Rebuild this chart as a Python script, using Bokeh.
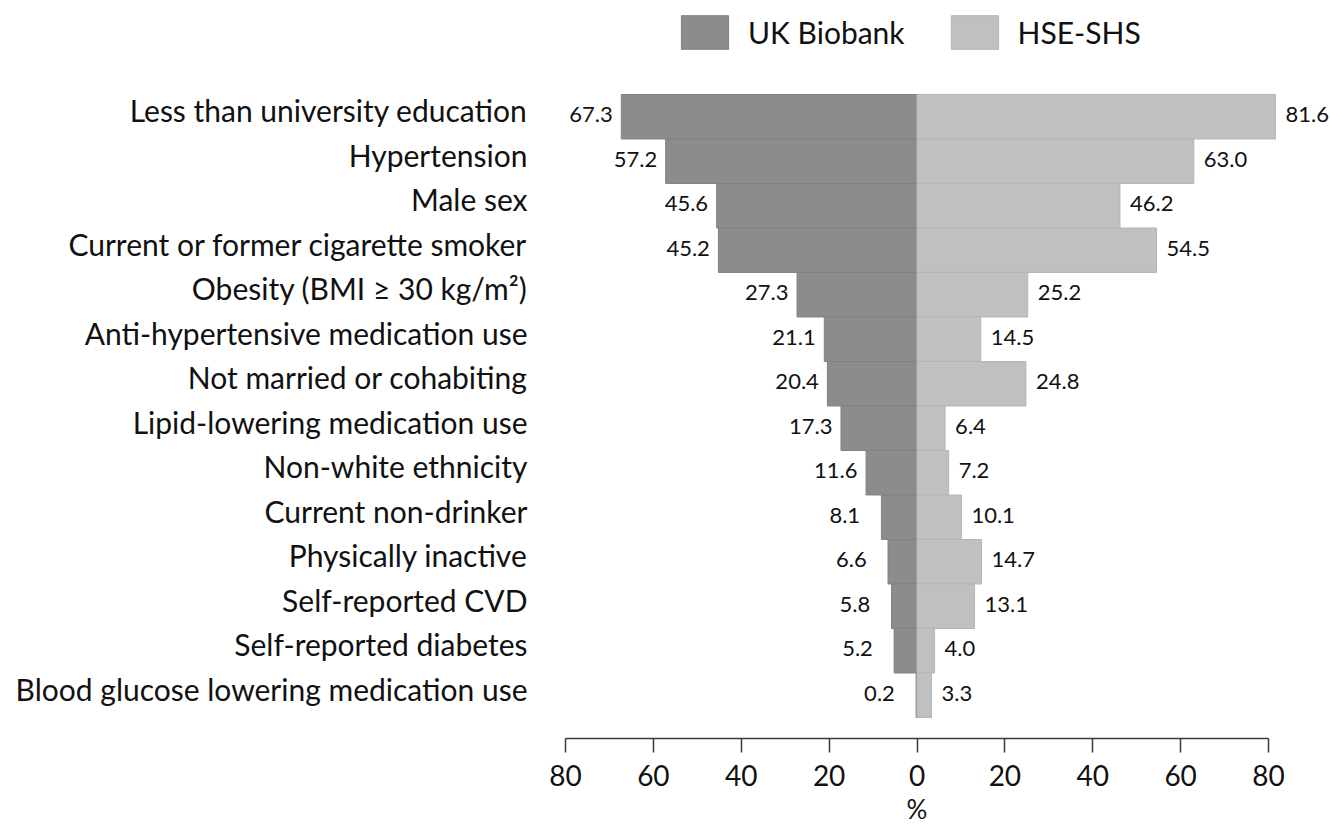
from bokeh.plotting import figure
from bokeh.models import ColumnDataSource, Range1d, FixedTicker, Legend, LegendItem, LinearAxis
from bokeh.core.properties import value
from bokeh.embed import file_html
from bokeh.resources import INLINE

categories = [
    "Less than university education",
    "Hypertension",
    "Male sex",
    "Current or former cigarette smoker",
    "Obesity (BMI \u2265 30 kg/m\u00b2)",
    "Anti-hypertensive medication use",
    "Not married or cohabiting",
    "Lipid-lowering medication use",
    "Non-white ethnicity",
    "Current non-drinker",
    "Physically inactive",
    "Self-reported CVD",
    "Self-reported diabetes",
    "Blood glucose lowering medication use",
]
uk_biobank = [67.3, 57.2, 45.6, 45.2, 27.3, 21.1, 20.4, 17.3, 11.6, 8.1, 6.6, 5.8, 5.2, 0.2]
hse_shs = [81.6, 63.0, 46.2, 54.5, 25.2, 14.5, 24.8, 6.4, 7.2, 10.1, 14.7, 13.1, 4.0, 3.3]
x_ticks = [-80, -60, -40, -20, 0, 20, 40, 60, 80]
series_names = ["UK Biobank", "HSE-SHS"]
x_title = "%"

DARK = "#8c8c8c"
LIGHT = "#c0c0c0"
FONT = "Lato"
TXT = "#111111"

n = len(categories)
ypos = [n - i for i in range(n)]
label_lift = 0.15  # category labels sit slightly above the bar centre

src = ColumnDataSource(dict(
    y=ypos,
    uk_neg=[-v for v in uk_biobank],
    hse=hse_shs,
    zero=[0] * n,
    uk_txt=[f"{v:.1f}" for v in uk_biobank],
    hse_txt=[f"{v:.1f}" for v in hse_shs],
))

p = figure(
    width=1330, height=827,
    output_backend="svg", toolbar_location=None,
    x_range=Range1d(-86.145, 94.11),
    y_range=Range1d(0.028, 16.612),
    min_border_left=538, min_border_right=0,
    min_border_top=0, min_border_bottom=89,
)
p.outline_line_color = None
p.xgrid.visible = False
p.ygrid.visible = False

r_uk = p.hbar(y="y", left="uk_neg", right="zero", height=1.0, source=src,
              fill_color=DARK, line_color="#828282", line_width=1)
r_hse = p.hbar(y="y", left="zero", right="hse", height=1.0, source=src,
               fill_color=LIGHT, line_color="#b6b6b6", line_width=1)

p.text(x="uk_neg", y="y", text="uk_txt", source=src, x_offset=-52, y_offset=-2,
       text_align="left", text_baseline="middle",
       text_font=value(FONT), text_font_size="22px", text_color=TXT)
p.text(x="hse", y="y", text="hse_txt", source=src, x_offset=10, y_offset=-2,
       text_align="left", text_baseline="middle",
       text_font=value(FONT), text_font_size="22px", text_color=TXT)

# y axis: categories
label_ticks = [y + label_lift for y in ypos]
ya = p.yaxis[0]
ya.ticker = FixedTicker(ticks=label_ticks)
ya.major_label_overrides = {t: c for t, c in zip(label_ticks, categories)}
ya.axis_line_color = None
ya.major_tick_line_color = None
ya.minor_tick_line_color = None
ya.major_tick_out = 0
ya.major_tick_in = 0
ya.major_label_standoff = 11
ya.major_label_text_font = FONT
ya.major_label_text_font_size = "30px"
ya.major_label_text_color = TXT

# x axis: percentages
xa = p.xaxis[0]
xa.ticker = FixedTicker(ticks=x_ticks)
xa.major_label_overrides = {t: str(abs(t)) for t in x_ticks}
xa.bounds = (-80, 80)
xa.axis_line_color = "#3a3a3a"
xa.axis_line_width = 1.5
xa.major_tick_line_color = "#3a3a3a"
xa.major_tick_line_width = 1.5
xa.major_tick_out = 14
xa.major_tick_in = 0
xa.minor_tick_line_color = None
xa.major_label_standoff = 12
xa.major_label_text_font = FONT
xa.major_label_text_font_size = "28px"
xa.major_label_text_color = TXT

# axis title "%" centred on x = 0
xt = LinearAxis(ticker=FixedTicker(ticks=[0]), major_label_overrides={0: x_title})
xt.axis_line_color = None
xt.major_tick_line_color = None
xt.minor_tick_line_color = None
xt.major_tick_out = 0
xt.major_tick_in = 0
xt.major_label_standoff = 4
xt.major_label_text_font = FONT
xt.major_label_text_font_size = "26px"
xt.major_label_text_color = TXT
p.add_layout(xt, "below")

legend = Legend(
    items=[LegendItem(label=series_names[0], renderers=[r_uk]),
           LegendItem(label=series_names[1], renderers=[r_hse])],
    orientation="horizontal", location=(137, 685),
    glyph_width=59, glyph_height=42, label_standoff=14, spacing=40,
    padding=0, margin=0, border_line_color=None, background_fill_alpha=0,
    label_text_font=FONT, label_text_font_size="30px", label_height=30,
    label_text_color=TXT,
)
p.add_layout(legend)

open("out.html", "w").write(file_html(p, INLINE))
